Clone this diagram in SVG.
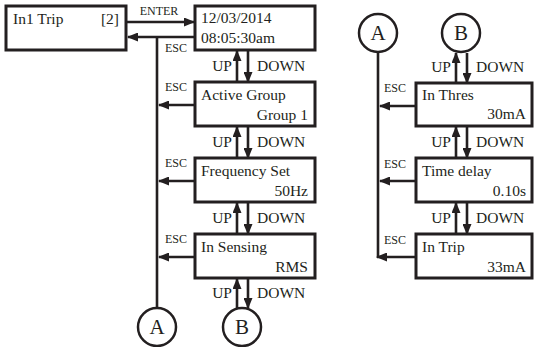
<svg xmlns="http://www.w3.org/2000/svg" width="534" height="347" viewBox="0 0 534 347">
<style>
.box{fill:#fff;stroke:#231f20;stroke-width:3}
.t{font-family:"Liberation Serif","Times New Roman",serif;font-size:15.5px;fill:#231f20}
.s{font-family:"Liberation Serif","Times New Roman",serif;font-size:12px;fill:#231f20}
.c{font-family:"Liberation Serif","Times New Roman",serif;font-size:21px;fill:#231f20;text-anchor:middle}
.e{text-anchor:end}
.ln{stroke:#231f20;stroke-width:2.6;fill:none}
.ar{stroke:#231f20;stroke-width:2.6;fill:none;marker-end:url(#ah)}
.cir{fill:#fff;stroke:#231f20;stroke-width:2.5}
</style>
<defs>
<marker id="ah" markerUnits="userSpaceOnUse" markerWidth="11" markerHeight="9" refX="10" refY="4.5" orient="auto">
<path d="M0,0 L11,4.5 L0,9 z" fill="#231f20"/>
</marker>
</defs>
<rect width="534" height="347" fill="#fff"/>
<g id="connectors">
<line class="ar" x1="126" y1="22" x2="194" y2="22"/>
<text class="s" x="159" y="15" text-anchor="middle">ENTER</text>
<line class="ar" x1="195" y1="37" x2="128" y2="37"/>
<line class="ln" x1="157" y1="37" x2="157" y2="308"/>
<text class="s" x="165" y="52">ESC</text>
<line class="ar" x1="195" y1="105" x2="159" y2="105"/>
<text class="s" x="165" y="91">ESC</text>
<line class="ar" x1="195" y1="181" x2="159" y2="181"/>
<text class="s" x="165" y="167">ESC</text>
<line class="ar" x1="195" y1="257" x2="159" y2="257"/>
<text class="s" x="165" y="243">ESC</text>
<line class="ar" x1="237" y1="82" x2="237" y2="51"/>
<line class="ar" x1="248" y1="51" x2="248" y2="82"/>
<text class="t e" x="232" y="71">UP</text><text class="t" x="257" y="71">DOWN</text>
<line class="ar" x1="237" y1="158" x2="237" y2="127"/>
<line class="ar" x1="248" y1="127" x2="248" y2="158"/>
<text class="t e" x="232" y="147">UP</text><text class="t" x="257" y="147">DOWN</text>
<line class="ar" x1="237" y1="234" x2="237" y2="203"/>
<line class="ar" x1="248" y1="203" x2="248" y2="234"/>
<text class="t e" x="232" y="223">UP</text><text class="t" x="257" y="223">DOWN</text>
<line class="ar" x1="237" y1="308" x2="237" y2="279"/>
<line class="ar" x1="248" y1="279" x2="248" y2="308"/>
<text class="t e" x="232" y="298">UP</text><text class="t" x="257" y="298">DOWN</text>
<line class="ln" x1="378" y1="52" x2="378" y2="258"/>
<line class="ar" x1="416" y1="106" x2="380" y2="106"/>
<text class="s" x="384" y="92">ESC</text>
<line class="ar" x1="416" y1="181" x2="380" y2="181"/>
<text class="s" x="384" y="168">ESC</text>
<line class="ar" x1="416" y1="257" x2="377" y2="257"/>
<text class="s" x="384" y="244">ESC</text>
<line class="ar" x1="456" y1="83" x2="456" y2="53"/>
<line class="ar" x1="467" y1="53" x2="467" y2="83"/>
<text class="t e" x="451" y="72">UP</text><text class="t" x="476" y="72">DOWN</text>
<line class="ar" x1="456" y1="158" x2="456" y2="127"/>
<line class="ar" x1="467" y1="127" x2="467" y2="158"/>
<text class="t e" x="451" y="147">UP</text><text class="t" x="476" y="147">DOWN</text>
<line class="ar" x1="456" y1="234" x2="456" y2="203"/>
<line class="ar" x1="467" y1="203" x2="467" y2="234"/>
<text class="t e" x="451" y="223">UP</text><text class="t" x="476" y="223">DOWN</text>
</g>
<g id="n_in1trip"><rect class="box" x="6" y="6" width="120" height="44"/><text class="t" x="13" y="24">In1 Trip</text><text class="t e" x="119" y="24">[2]</text></g>
<g id="n_datetime"><rect class="box" x="195" y="6" width="120" height="44"/><text class="t" x="201" y="23">12/03/2014</text><text class="t" x="201" y="43">08:05:30am</text></g>
<g id="n_activegroup"><rect class="box" x="195" y="82" width="120" height="44"/><text class="t" x="201" y="100">Active Group</text><text class="t e" x="308" y="120">Group 1</text></g>
<g id="n_freq"><rect class="box" x="195" y="158" width="120" height="44"/><text class="t" x="201" y="176">Frequency Set</text><text class="t e" x="308" y="196">50Hz</text></g>
<g id="n_sensing"><rect class="box" x="195" y="234" width="120" height="44"/><text class="t" x="201" y="252">In Sensing</text><text class="t e" x="308" y="272">RMS</text></g>
<g id="n_A1"><circle class="cir" cx="157" cy="327" r="19"/><text class="c" x="157" y="334">A</text></g>
<g id="n_B1"><circle class="cir" cx="242" cy="327" r="19"/><text class="c" x="242" y="334">B</text></g>
<g id="n_A2"><circle class="cir" cx="378" cy="33" r="19"/><text class="c" x="378" y="40">A</text></g>
<g id="n_B2"><circle class="cir" cx="461" cy="33" r="19"/><text class="c" x="461" y="40">B</text></g>
<g id="n_inthres"><rect class="box" x="416" y="83" width="116" height="43"/><text class="t" x="422" y="100">In Thres</text><text class="t e" x="526" y="119">30mA</text></g>
<g id="n_timedelay"><rect class="box" x="416" y="158" width="116" height="44"/><text class="t" x="422" y="176">Time delay</text><text class="t e" x="526" y="196">0.10s</text></g>
<g id="n_intrip"><rect class="box" x="416" y="234" width="116" height="44"/><text class="t" x="422" y="252">In Trip</text><text class="t e" x="526" y="272">33mA</text></g>
</svg>
